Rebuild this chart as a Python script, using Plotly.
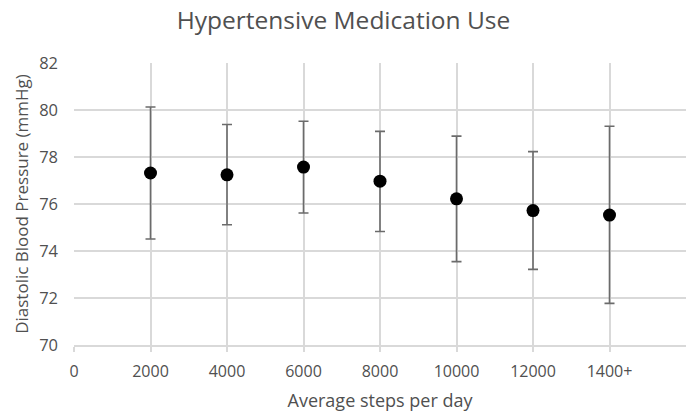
import plotly.graph_objects as go

steps = [2000, 4000, 6000, 8000, 10000, 12000, 14000]
dbp_mean = [77.32, 77.24, 77.57, 76.97, 76.22, 75.72, 75.53]
dbp_upper = [80.13, 79.38, 79.52, 79.09, 78.89, 78.23, 79.31]
dbp_lower = [74.51, 75.12, 75.62, 74.83, 73.55, 73.22, 71.77]
x_tickvals = [0, 2000, 4000, 6000, 8000, 10000, 12000, 14000]
x_ticktext = ["0", "2000", "4000", "6000", "8000", "10000", "12000", "1400+"]
y_tickvals = [70, 72, 74, 76, 78, 80, 82]

err_plus = [u - m for u, m in zip(dbp_upper, dbp_mean)]
err_minus = [m - l for m, l in zip(dbp_mean, dbp_lower)]

FONT = "Open Sans"
GRAY = "#505050"
GRID = "#d9d9d9"

fig = go.Figure(go.Scatter(
    x=steps, y=dbp_mean, mode="markers",
    marker=dict(color="black", size=13),
    error_y=dict(type="data", symmetric=False, array=err_plus, arrayminus=err_minus,
                 color="#6b6b6b", thickness=1.6, width=5),
    showlegend=False,
))

fig.update_layout(
    width=687, height=416,
    margin=dict(l=74, r=1, t=63, b=71),
    paper_bgcolor="white", plot_bgcolor="white",
    font=dict(family=FONT, color=GRAY, size=16),
    title=dict(text="Hypertensive Medication Use", x=0.5, xanchor="center",
               y=0.95, yanchor="middle", font=dict(size=24.5, color=GRAY, family=FONT)),
)
fig.update_xaxes(
    range=[0, 16000], tickvals=x_tickvals, ticktext=x_ticktext,
    showgrid=True, gridcolor=GRID, gridwidth=1.5, zeroline=False,
    showline=True, linecolor=GRID, linewidth=1.5,
    ticks="outside", ticklen=5, tickcolor=GRID, tickwidth=1.5,
    ticklabelstandoff=6,
    tickfont=dict(size=16, color=GRAY),
    title=dict(text="Average steps per day", font=dict(size=18, color=GRAY), standoff=13),
)
fig.update_yaxes(
    range=[70, 82], tickvals=y_tickvals,
    showgrid=True, gridcolor=GRID, gridwidth=1.5, zeroline=False,
    showline=False, ticks="", ticklabelstandoff=15,
    tickfont=dict(size=16.5, color=GRAY),
    title=dict(text="Diastolic Blood Pressure (mmHg)", font=dict(size=17, color=GRAY), standoff=6),
)

fig.write_html("out.html")
